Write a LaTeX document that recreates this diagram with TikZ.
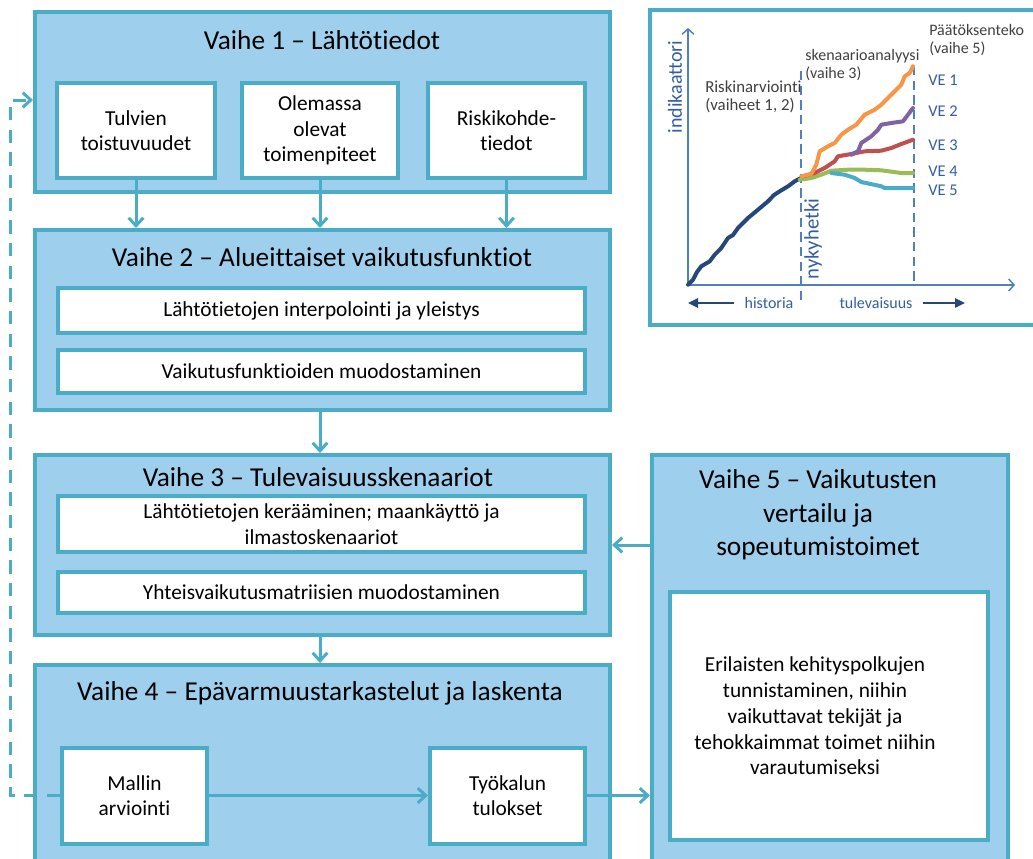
\documentclass[tikz,border=0pt]{standalone}
\usepackage{fontspec}
\setmainfont{Carlito}[Ligatures={NoCommon}]
\usetikzlibrary{arrows.meta,fit,calc}

\definecolor{edge}{RGB}{75,172,198}
\definecolor{panel}{RGB}{158,207,237}
\definecolor{axisblue}{RGB}{79,129,189}
\definecolor{labelblue}{RGB}{52,95,160}
\definecolor{histblue}{RGB}{38,72,120}
\definecolor{veone}{RGB}{247,150,70}
\definecolor{vetwo}{RGB}{128,100,162}
\definecolor{vethree}{RGB}{192,80,77}
\definecolor{vefour}{RGB}{155,187,89}
\definecolor{vefive}{RGB}{75,172,198}
\definecolor{note}{RGB}{64,64,64}

\begin{document}
\begin{tikzpicture}[x=0.75pt,y=-0.75pt,
  phase/.style={draw=edge, fill=panel, line width=3pt, inner sep=0pt, rectangle},
  item/.style={draw=edge, fill=white, line width=3pt, inner sep=0pt, align=center,
               font=\fontsize{16}{19.2}\selectfont},
  wh/.style 2 args={minimum width=#1*0.75pt, minimum height=#2*0.75pt},
  heading/.style={font=\fontsize{20.5}{25}\selectfont, align=center},
  flow/.style={draw=edge, line width=2.25pt, -{Straight Barb[length=6pt,width=11pt]}},
  loopback/.style={flow, dash pattern=on 10pt off 7pt},
  axisline/.style={draw=axisblue, line width=1.1pt, -{Straight Barb[length=4pt,width=9pt]}},
  marker/.style={draw=axisblue, line width=1.5pt, dash pattern=on 7pt off 4pt},
  curve/.style={line width=3pt, line join=round, line cap=round},
  chartnote/.style={font=\fontsize{12}{13.5}\selectfont, text=note, align=left, anchor=west, inner sep=0pt},
  velabel/.style={font=\fontsize{12.3}{14}\selectfont, text=labelblue, anchor=west, inner sep=0pt},
  timearrow/.style={draw=histblue, line width=1.5pt, -{Triangle[length=7.5pt,width=7pt]}}
]
\useasboundingbox (0,0) rectangle (1033,858);
\clip (0,0) rectangle (1033,858);

% ---------- Vaihe 1 ----------
\node[phase, fit={(35,12) (610,192)}] (v1) {};
\node[heading] (h1) at (322,40) {Vaihe 1 – Lähtötiedot};
\node[item, wh={158}{95}] (a1) at (136,130.5) {Tulvien\\toistuvuudet};
\node[item, wh={156}{95}] (a2) at (320,130.5) {Olemassa\\olevat\\toimenpiteet};
\node[item, wh={157}{95}] (a3) at (506.5,130.5) {Riskikohde-\\tiedot};

% ---------- Vaihe 2 ----------
\node[phase, fit={(35,230) (610,410)}] (v2) {};
\node[heading] (h2) at (322,257) {Vaihe 2 – Alueittaiset vaikutusfunktiot};
\node[item, wh={527}{45}] (b1) at (321.5,310.5) {Lähtötietojen interpolointi ja yleistys};
\node[item, wh={527}{43}] (b2) at (321.5,371.5) {Vaikutusfunktioiden muodostaminen};

% ---------- Vaihe 3 ----------
\node[phase, fit={(35,455) (610,635)}] (v3) {};
\node[heading] (h3) at (318,477) {Vaihe 3 – Tulevaisuusskenaariot};
\node[item, wh={527}{56}] (c1) at (321.5,524) {Lähtötietojen kerääminen; maankäyttö ja\\ilmastoskenaariot};
\node[item, wh={527}{41}] (c2) at (321.5,592.5) {Yhteisvaikutusmatriisien muodostaminen};

% ---------- Vaihe 4 ----------
\node[phase, fit={(35,665) (610,890)}] (v4) {};
\node[heading] (h4) at (320,693) {Vaihe 4 – Epävarmuustarkastelut ja laskenta};
\node[item, wh={145}{96}] (d1) at (134.5,795.5) {Mallin\\arviointi};
\node[item, wh={155}{96}] (d2) at (507.5,795.5) {Työkalun\\tulokset};

% ---------- Vaihe 5 ----------
\node[phase, fit={(652,455) (1008,890)}] (v5) {};
\node[heading, font=\fontsize{20.5}{25.2}\selectfont] (h5) at (818,515)
  {Vaihe 5 – Vaikutusten\\vertailu ja\\sopeutumistoimet};
\node[item, wh={318}{248}] (e1) at (829,716) {};
\node[align=center, inner sep=0pt, font=\fontsize{16}{19.3}\selectfont] (e1text) at ($(e1.center)+(-14,0)$)
  {Erilaisten kehityspolkujen\\tunnistaminen, niihin\\vaikuttavat tekijät ja\\tehokkaimmat toimet niihin\\varautumiseksi};

% ---------- connectors ----------
\draw[flow] (a1.south) -- (a1.south |- v2.north);
\draw[flow] (a2.south) -- (a2.south |- v2.north);
\draw[flow] (a3.south) -- (a3.south |- v2.north);
\draw[flow] (v2.south -| a2.south) -- (v3.north -| a2.south);
\draw[flow] (v3.south -| a2.south) -- (v4.north -| a2.south);
\draw[flow] (d1.east) -- (d2.west);
\draw[flow] (d2.east) -- (d2.east -| v5.west);
\coordinate (back) at (652,545);
\draw[flow] (v5.west |- back) -- (v3.east |- back);
\coordinate (loopcorner) at (10,100);
\draw[loopback] (d1.west) -- (d1.west -| loopcorner) -- (loopcorner) -- (loopcorner -| v1.west);

% ---------- inset chart ----------
\node[draw=edge, fill=white, line width=3pt, inner sep=0pt, fit={(650,10) (1050,325)}] (chart) {};
\coordinate (origin) at (688,285);
\coordinate (ytop) at (688,28);
\coordinate (xend) at (1015,285);
\draw[axisline] (origin) -- (ytop);
\draw[axisline] (origin) -- (xend);
\coordinate (now) at (801,71);
\coordinate (nowlow) at (801,305);
\coordinate (decide) at (914,66);
\draw[marker] (now) -- (nowlow);
\draw[marker] (decide) -- (decide |- origin);

% scenario paths
\draw[curve, draw=histblue] plot coordinates {(688,284.7) (693,279.7) (697,272) (701.3,266.3) (709.7,261.3) (714.7,254.7) (721.3,248) (728,238) (733,235) (738,228) (748,218) (758,209.7) (768,201.3) (774,195) (779.7,191.3) (788,186.3) (794.7,181.3) (801,178)};
\draw[curve, draw=vefour] plot coordinates {(799.7,179.7) (811.3,178) (821.3,174.7) (831.3,170.7) (848,169.7) (864.7,169.7) (881.3,170.3) (901.3,173) (913,173)};
\draw[curve, draw=vefive] plot coordinates {(831.3,173) (844.7,174.7) (854.7,178) (861.3,182) (881.3,186.3) (884.7,188) (913,188)};
\draw[curve, draw=vethree] plot coordinates {(803,176.3) (814.7,173) (824.7,168) (834.7,161.3) (838,156.3) (851.3,154) (864.7,151.3) (881.3,150.7) (891.3,148) (901.3,144) (913,139.7)};
\draw[curve, draw=vetwo] plot coordinates {(851.3,154.7) (858,151.3) (861.3,143) (871.3,136.3) (878,129.7) (881.3,124.7) (891.3,123) (903,121.3) (908,114.7) (913,108)};
\draw[curve, draw=veone] plot coordinates {(801.3,176.3) (811.3,174) (816.3,164.7) (819.7,151.3) (828,146.3) (834.7,143) (841.3,134.7) (848,129.7) (856.3,124.7) (864.7,114.7) (874.7,109.7) (881.3,104.7) (891.3,94.7) (901.3,84.7) (904.7,76.3) (909.7,73) (913,66.3)};

% chart labels
\node[rotate=90, font=\fontsize{15}{18}\selectfont, text=labelblue] (yname) at (675,87) {indikaattori};
\node[rotate=90, font=\fontsize{15.5}{18}\selectfont, text=labelblue] (nowname) at (813,239) {nykyhetki};
\node[chartnote, font=\fontsize{12.6}{13.5}\selectfont] (risk) at (705,97) {Riskinarviointi\\(vaiheet 1, 2)};
\node[chartnote] (scen) at (805,65.5) {skenaarioanalyysi\\(vaihe 3)};
\node[chartnote] (dec) at (929,40.5) {Päätöksenteko\\(vaihe 5)};
\node[velabel] (l1) at (928,80) {VE 1};
\node[velabel] (l2) at (928,111) {VE 2};
\node[velabel] (l3) at (928,145) {VE 3};
\node[velabel] (l4) at (928,171) {VE 4};
\node[velabel] (l5) at (928,190) {VE 5};
\node[font=\fontsize{12}{14}\selectfont, text=labelblue] (past) at (769,303) {historia};
\node[font=\fontsize{12}{14}\selectfont, text=labelblue] (future) at (876,303) {tulevaisuus};
\draw[timearrow] (past.west) ++(-6,0) coordinate (paststart) -- (paststart -| origin);
\coordinate (futureend) at (965,303);
\draw[timearrow] (future.east) ++(6,0) -- (futureend);
\end{tikzpicture}
\end{document}
